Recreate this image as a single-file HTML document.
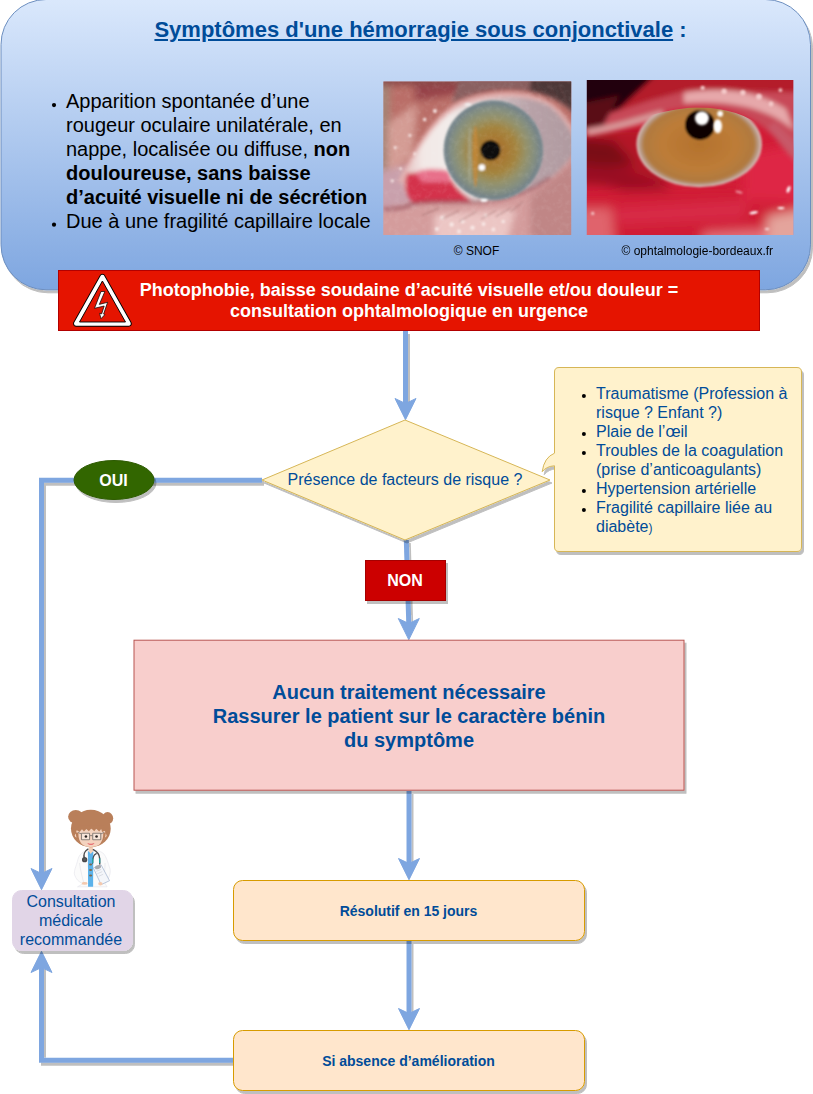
<!DOCTYPE html>
<html lang="fr">
<head>
<meta charset="utf-8">
<title>Hémorragie sous conjonctivale</title>
<style>
html,body{margin:0;padding:0;background:#fff;}
body{width:813px;height:1094px;position:relative;overflow:hidden;font-family:"Liberation Sans",sans-serif;}
#bg{position:absolute;left:0;top:0;}
.t{position:absolute;font-family:"Liberation Sans",sans-serif;color:#000;white-space:nowrap;}
.c{text-align:center;}
.blue{color:#004c99;}
</style>
</head>
<body>
<svg id="bg" width="813" height="1094" viewBox="0 0 813 1094">
<defs>
<linearGradient id="gp" x1="0" y1="0" x2="0" y2="1">
<stop offset="0" stop-color="#dae8fc"/>
<stop offset="1" stop-color="#7ea6e0"/>
</linearGradient>
<filter id="sh" x="-10%" y="-10%" width="130%" height="130%">
<feOffset in="SourceAlpha" dx="2" dy="3" result="o"/>
<feFlood flood-color="#000" flood-opacity="0.25"/>
<feComposite in2="o" operator="in" result="s"/>
<feMerge><feMergeNode in="s"/><feMergeNode in="SourceGraphic"/></feMerge>
</filter>
</defs>

<!-- top panel -->
<g filter="url(#sh)">
<rect x="1" y="-0.500" width="809.500" height="290.300" rx="45" ry="45" fill="url(#gp)" stroke="#6c8ebf" stroke-width="1"/>
</g>

<!-- photo 1 -->
<svg x="383.400" y="81.400" width="187.800" height="153.700" viewBox="22 30 765 625" preserveAspectRatio="none">
<defs>
<radialGradient id="iris1" cx="470" cy="310" r="205" gradientUnits="userSpaceOnUse">
<stop offset="0" stop-color="#6b4a1e"/>
<stop offset="0.200" stop-color="#a87630"/>
<stop offset="0.450" stop-color="#a4843e"/>
<stop offset="0.650" stop-color="#95926a"/>
<stop offset="0.820" stop-color="#858f80"/>
<stop offset="0.950" stop-color="#74838a"/>
<stop offset="1" stop-color="#8e9a9c"/>
</radialGradient>
<linearGradient id="scl1" x1="100" y1="0" x2="787" y2="0" gradientUnits="userSpaceOnUse">
<stop offset="0" stop-color="#e2bcbc"/>
<stop offset="0.120" stop-color="#f3e8e6"/>
<stop offset="0.280" stop-color="#f2ecea"/>
<stop offset="0.750" stop-color="#b8a2a8"/>
<stop offset="1" stop-color="#b09aa0"/>
</linearGradient>
<filter id="b1" x="-20%" y="-20%" width="140%" height="140%"><feGaussianBlur stdDeviation="8"/></filter>
<filter id="b2" x="-20%" y="-20%" width="140%" height="140%"><feGaussianBlur stdDeviation="3.500"/></filter>
<filter id="b3" x="-20%" y="-20%" width="140%" height="140%"><feGaussianBlur stdDeviation="16"/></filter>
<filter id="n1" x="0" y="0" width="100%" height="100%">
<feTurbulence type="fractalNoise" baseFrequency="0.045" numOctaves="3" seed="7" result="t"/>
<feColorMatrix type="matrix" values="0 0 0 0 1  0 0 0 0 1  0 0 0 0 1  1.400 0 0 0 -0.600"/>
</filter>
</defs>
<rect x="22" y="30" width="765" height="625" fill="#d29c9c"/>
<g filter="url(#b3)">
<path d="M-20 0 H830 V260 C 720 110 560 60 400 95 C 300 120 200 220 100 430 L-20 480 Z" fill="#ba6e68"/>
<path d="M-20 0 L50 0 L40 400 L-20 440 Z" fill="#a58476"/>
<path d="M40 200 L160 120 L140 330 L40 420 Z" fill="#d49c94"/>
<path d="M150 0 H520 V55 L150 110 Z" fill="#97434a"/>
<path d="M-20 -10 H830 V48 H-20 Z" fill="#8a4a48"/>
<path d="M-20 400 L130 370 L170 520 L-20 560 Z" fill="#c9a0ac"/>
<path d="M-20 560 L300 530 L830 470 V700 H-20 Z" fill="#d49c9c"/>
<path d="M230 570 L560 550 L520 700 L230 700 Z" fill="#ecc6c4"/>
<path d="M620 500 L830 330 V700 H620 Z" fill="#c08686"/>
</g>
<g filter="url(#b1)">
<path d="M330 20 H830 V200 C 760 100 640 60 520 62 C 440 62 370 80 300 120 Z" fill="#8a6060"/>
<path d="M620 20 H830 V190 C 780 120 700 80 620 70 Z" fill="#4e3838"/>
<path d="M80 440 C 140 320 210 190 310 125 C 420 70 600 50 710 120 C 760 160 800 230 810 260 L810 310 C 750 160 600 100 430 120 C 330 135 240 230 130 440 Z" fill="#e4b0ae"/>
<path d="M100 430 C 150 330 220 200 320 140 C 420 90 600 70 700 130 C 750 170 787 230 800 260 L800 320 C 740 400 680 450 600 480 C 520 510 450 518 400 518 L150 525 C 120 500 100 470 100 430 Z" fill="url(#scl1)"/>
<path d="M118 405 C 170 395 230 410 285 395 C 300 440 335 485 390 517 L150 528 C 112 500 100 450 118 405 Z" fill="#d4304c"/>
<path d="M150 400 C 200 380 250 385 290 395 L 300 440 L 180 440 Z" fill="#e8708a"/>
<path d="M22 548 C 80 552 120 540 150 524 C 250 512 350 522 420 518 C 520 512 620 480 700 420" fill="none" stroke="#9a5058" stroke-width="10"/>
</g>
<g filter="url(#b2)">
<circle cx="470" cy="310" r="203" fill="url(#iris1)"/>
<ellipse cx="397" cy="335" rx="10" ry="125" fill="#c4883a" opacity="0.800"/>
<ellipse cx="374" cy="330" rx="8" ry="120" fill="#a8ac98" opacity="0.600"/>
<circle cx="458" cy="310" r="41" fill="#080808"/>
<circle cx="423" cy="380" r="13" fill="#fff"/>
<ellipse cx="432" cy="513" rx="14" ry="6" fill="#fff"/>
<ellipse cx="366" cy="124" rx="14" ry="5" fill="#f4f4f4"/>
</g>
<g filter="url(#b2)" fill="#f8e8e6">
<circle cx="262" cy="585" r="9"/><circle cx="300" cy="612" r="9"/><circle cx="345" cy="600" r="8"/><circle cx="385" cy="625" r="9"/><circle cx="240" cy="630" r="8"/><circle cx="330" cy="640" r="8"/><circle cx="430" cy="610" r="8"/><circle cx="470" cy="632" r="8"/><circle cx="510" cy="600" r="7"/><circle cx="440" cy="575" r="6"/>
<circle cx="92" cy="385" r="6"/><circle cx="58" cy="435" r="6"/><circle cx="150" cy="325" r="6"/><circle cx="190" cy="185" r="7"/><circle cx="232" cy="150" r="8"/><circle cx="130" cy="250" r="6"/><circle cx="270" cy="378" r="5"/><circle cx="70" cy="300" r="6"/>
</g>
<g filter="url(#b2)" fill="none" stroke="#7a4a4a" stroke-width="3" opacity="0.600">
<path d="M180 575 L250 545"/><path d="M260 590 L330 555"/><path d="M330 600 L400 560"/><path d="M420 590 L480 555"/><path d="M480 580 L540 545"/><path d="M540 560 L590 520"/>
<path d="M640 40 L700 110"/><path d="M690 40 L750 130"/><path d="M590 40 L650 90"/><path d="M740 50 L785 150"/>
</g>
<rect x="22" y="30" width="765" height="625" filter="url(#n1)" opacity="0.120"/>
</svg>
<!-- /photo 1 -->

<!-- photo 2 -->
<svg x="586.800" y="79.900" width="206.500" height="155" viewBox="18 22 770 578" preserveAspectRatio="none">
<defs>
<radialGradient id="iris2" cx="437" cy="262" r="232" gradientUnits="userSpaceOnUse" gradientTransform="translate(0 83.600) scale(1 0.681)">
<stop offset="0" stop-color="#b4722c"/>
<stop offset="0.600" stop-color="#bd7c38"/>
<stop offset="0.880" stop-color="#b07a40"/>
<stop offset="0.950" stop-color="#b89a86"/>
<stop offset="1" stop-color="#d8bcb6"/>
</radialGradient>
<clipPath id="lid2"><path d="M-50 225 C 150 190 300 130 420 125 C 560 122 660 170 720 240 C 760 290 790 330 850 360 V700 H-50 Z"/></clipPath>
<filter id="c1" x="-20%" y="-20%" width="140%" height="140%"><feGaussianBlur stdDeviation="9"/></filter>
<filter id="c2" x="-20%" y="-20%" width="140%" height="140%"><feGaussianBlur stdDeviation="3.500"/></filter>
<filter id="c3" x="-20%" y="-20%" width="140%" height="140%"><feGaussianBlur stdDeviation="20"/></filter>
</defs>
<rect x="18" y="22" width="770" height="578" fill="#d21c36"/>
<g filter="url(#c3)">
<path d="M-50 200 H250 L330 400 L-50 420 Z" fill="#b41428"/>
<path d="M-50 230 L120 250 L200 340 L-50 350 Z" fill="#7a0a18"/>
<path d="M-50 330 L150 350 L330 420 L300 470 L100 420 L-50 400 Z" fill="#9a0e22"/>
<path d="M-50 440 L850 420 V700 H-50 Z" fill="#d01c34"/>
<path d="M120 500 L620 470 L600 540 L140 560 Z" fill="#d82c46"/>
<path d="M-50 500 L110 500 L130 700 H-50 Z" fill="#e0646c"/>
<path d="M600 300 L850 250 V480 L600 470 Z" fill="#de2644"/>
<path d="M450 590 L850 570 V700 H450 Z" fill="#e4707a"/>
<path d="M690 530 L850 500 V700 H690 Z" fill="#e4a49c"/>
</g>
<g filter="url(#c1)">
<path d="M-50 -20 H850 V360 C 790 330 760 290 720 240 C 660 170 560 122 420 125 C 300 130 150 190 -50 225 Z" fill="#c84a58"/>
<path d="M-50 -20 H850 V70 L400 60 L250 100 L-50 200 Z" fill="#b41c2c"/>
<path d="M-50 -20 H300 L140 130 L-50 200 Z" fill="#22040a"/>
<path d="M-50 120 L140 80 L80 190 L-50 215 Z" fill="#5a0c16"/>
<path d="M380 70 C 520 45 650 60 760 130 L790 210 C 700 130 560 95 380 108 Z" fill="#e6a8aa"/>
<path d="M18 205 C 120 190 200 160 300 135 L310 160 C 200 190 120 215 18 232 Z" fill="#d8999a"/>
<path d="M690 200 C 740 250 770 300 800 330 L800 260 C 770 230 740 200 720 180 Z" fill="#c85868"/>
</g>
<g clip-path="url(#lid2)">
<g filter="url(#c2)">
<ellipse cx="437" cy="262" rx="234" ry="160" fill="url(#iris2)"/>
<circle cx="440" cy="190" r="56" fill="#0a0606"/>
</g>
</g>
<g filter="url(#c2)" fill="#fff">
<circle cx="447" cy="165" r="26"/>
<ellipse cx="506" cy="195" rx="16" ry="26"/>
<circle cx="515" cy="148" r="11"/>
<ellipse cx="770" cy="430" rx="6" ry="13" transform="rotate(20 770 430)"/>
<ellipse cx="640" cy="517" rx="16" ry="5" transform="rotate(-12 640 517)"/>
<ellipse cx="742" cy="500" rx="13" ry="4"/>
<ellipse cx="585" cy="440" rx="14" ry="4" transform="rotate(15 585 440)" opacity="0.600"/>
<ellipse cx="690" cy="578" rx="9" ry="4" opacity="0.800"/>
</g>
<g filter="url(#c2)" fill="#f4caca">
<circle cx="530" cy="65" r="10"/><circle cx="600" cy="70" r="10"/><circle cx="660" cy="85" r="11"/><circle cx="450" cy="52" r="8"/><circle cx="705" cy="112" r="9"/><circle cx="40" cy="520" r="6"/><circle cx="740" cy="60" r="7"/>
</g>
</svg>
<!-- /photo 2 -->

<!-- connectors -->
<g filter="url(#sh)" fill="none" stroke="#7ea6e0" stroke-width="5">
<path d="M405.500 331 V405"/>
<path d="M262 480.200 H41.500 V875"/>
<path d="M406.300 540 L408.800 625"/>
<path d="M409 791 V865"/>
<path d="M409 941 V1015"/>
<path d="M233 1060.300 H41.500 V966"/>
</g>
<g fill="#7ea6e0" stroke="#7ea6e0" stroke-width="1" stroke-linejoin="miter">
<path d="M405.500 419.700 L395 398.500 L405.500 403.500 L416 398.500 Z"/>
<path d="M408.800 639.700 L398.300 618.500 L408.800 623.500 L419.300 618.500 Z"/>
<path d="M409 879.700 L398.500 858.500 L409 863.500 L419.500 858.500 Z"/>
<path d="M409 1029.700 L398.500 1008.500 L409 1013.500 L419.500 1008.500 Z"/>
<path d="M41.500 889.700 L31 868.500 L41.500 873.500 L52 868.500 Z"/>
<path d="M41.500 951.300 L31 972.500 L41.500 967.500 L52 972.500 Z"/>
</g>

<!-- red banner -->
<rect x="58.500" y="270.500" width="701" height="60" fill="#e51400" stroke="#b20000" stroke-width="1"/>
<path d="M102.400 277 L128.600 323.600 L76.200 323.600 Z" fill="none" stroke="#000" stroke-width="6.200" stroke-linejoin="round"/>
<path d="M102.400 277 L128.600 323.600 L76.200 323.600 Z" fill="none" stroke="#fff" stroke-width="4.400" stroke-linejoin="round"/>
<path d="M102.400 281 L125.500 322 L79.500 322 Z" fill="#e51400" stroke="#000" stroke-width="0.900" stroke-linejoin="miter"/>
<path d="M104.850 291.500 L99.300 304.400 L107.600 302.300 L103.600 314.100 L104.850 314.600 L101 318.700 L99.600 313.400 L101.700 313.850 L104.200 306 L94.500 308.300 L101 291.500 Z" fill="#fff" stroke="#000" stroke-width="0.700" stroke-linejoin="miter"/>

<!-- diamond -->
<g filter="url(#sh)">
<path d="M405 420 L550 480 L405 540 L262 480 Z" fill="#fff2cc" stroke="#d6b656" stroke-width="1"/>
</g>

<!-- callout -->
<g filter="url(#sh)">
<path d="M559 367.500 H797 Q801.500 367.500 801.500 372 V547 Q801.500 551.500 797 551.500 H559 Q554.500 551.500 554.500 547 V465.800 Q546.500 466.300 542.200 471.700 Q544 457.500 554.500 453.200 V372 Q554.500 367.500 559 367.500 Z" fill="#fff2cc" stroke="#d6b656" stroke-width="1"/>
</g>

<!-- OUI -->
<g filter="url(#sh)">
<ellipse cx="114" cy="480" rx="40" ry="19.500" fill="#336600" stroke="#2d5a00" stroke-width="1"/>
</g>

<!-- NON -->
<g filter="url(#sh)">
<rect x="365.500" y="560.500" width="80" height="40" fill="#cc0000" stroke="#a50000" stroke-width="1"/>
</g>

<!-- pink -->
<g filter="url(#sh)">
<rect x="134" y="640.200" width="550" height="150" fill="#f8cecc" stroke="#b85450" stroke-width="1"/>
</g>

<!-- orange boxes -->
<g filter="url(#sh)">
<rect x="233.500" y="880.500" width="351" height="60" rx="9" fill="#ffe6cc" stroke="#d79b00" stroke-width="1"/>
</g>
<g filter="url(#sh)">
<rect x="233.500" y="1030.500" width="351" height="60" rx="9" fill="#ffe6cc" stroke="#d79b00" stroke-width="1"/>
</g>

<!-- consultation -->
<g filter="url(#sh)">
<rect x="12.500" y="890.500" width="120" height="60" rx="9" fill="#e1d5e7" stroke="#e1d5e7" stroke-width="1"/>
</g>
<!-- doctor -->
<svg x="50" y="800" width="80" height="100" viewBox="0 0 813 1016">
<g>
<!-- coat -->
<path d="M400 505 C 340 520 300 545 285 600 C 265 680 240 720 250 760 C 262 800 290 835 335 850 L 280 882 H 580 L 560 850 C 600 800 620 740 610 700 C 590 640 575 580 545 545 C 515 520 470 510 440 505 Z" fill="#fbfbfb" stroke="#e4e4ea" stroke-width="6"/>
<path d="M300 640 C 310 720 330 790 345 850" fill="none" stroke="#e0e0e6" stroke-width="6"/>
<path d="M560 640 C 560 720 545 790 520 850" fill="none" stroke="#e0e0e6" stroke-width="6"/>
<!-- shirt -->
<path d="M385 520 L440 520 L438 882 H387 Z" fill="#5cb2ea"/>
<!-- neck -->
<path d="M392 470 H440 L436 520 L414 548 L394 520 Z" fill="#f4d0b8"/>
<!-- buttons -->
<ellipse cx="413" cy="655" rx="16" ry="11" fill="#7d6a4c"/>
<ellipse cx="413" cy="711" rx="16" ry="11" fill="#7d6a4c"/>
<ellipse cx="413" cy="767" rx="16" ry="11" fill="#7d6a4c"/>
<!-- clipboard -->
<path d="M440 690 L520 660 L605 820 L520 860 Z" fill="#f4f6fa" stroke="#9fb0cc" stroke-width="7" stroke-linejoin="round"/>
<path d="M470 725 L520 705 M480 750 L530 728 M495 775 L540 755" stroke="#c8ccd4" stroke-width="6" fill="none"/>
<!-- stethoscope -->
<path d="M385 500 C 350 520 340 560 348 590" fill="none" stroke="#4b4b4d" stroke-width="15" stroke-linecap="round"/>
<circle cx="352" cy="606" r="27" fill="#48484a"/>
<circle cx="352" cy="606" r="13" fill="#5c5c5e"/>
<path d="M440 505 C 470 520 500 545 504 590 L 506 650" fill="none" stroke="#4b4b4d" stroke-width="14" stroke-linecap="round"/>
<path d="M470 545 C 445 555 432 580 433 640" fill="none" stroke="#4b4b4d" stroke-width="13" stroke-linecap="round"/>
<path d="M433 592 V640" stroke="#22a3a3" stroke-width="13"/>
<path d="M505 592 V640" stroke="#22a3a3" stroke-width="13"/>
<ellipse cx="488" cy="682" rx="32" ry="20" fill="#a9a9ad" transform="rotate(-20 488 682)"/>
<!-- hands -->
<ellipse cx="352" cy="848" rx="30" ry="14" fill="#f4c9ae"/>
<ellipse cx="512" cy="850" rx="22" ry="18" fill="#f4c9ae"/>
<!-- hair -->
<ellipse cx="262" cy="170" rx="78" ry="68" fill="#b97f5a"/>
<ellipse cx="585" cy="185" rx="57" ry="62" fill="#b97f5a"/>
<ellipse cx="415" cy="290" rx="202" ry="190" fill="#b97f5a"/>
<!-- face -->
<path d="M268 340 C 262 300 290 290 300 290 L 530 290 C 560 295 566 330 560 350 C 560 420 500 478 415 478 C 330 478 268 420 268 340 Z" fill="#f4d3bf"/>
<circle cx="272" cy="360" r="20" fill="#f4d3bf"/>
<circle cx="555" cy="360" r="20" fill="#f4d3bf"/>
<!-- bangs -->
<path d="M262 300 L300 260 L540 260 L565 310 L530 325 L520 295 L500 320 L470 292 L450 318 L420 290 L395 318 L370 295 L345 320 L325 298 L300 325 Z" fill="#b97f5a"/>
<!-- sideburns -->
<path d="M262 330 C 262 400 300 450 340 465 C 300 430 285 380 290 330 Z" fill="#b97f5a"/>
<path d="M566 330 C 566 400 530 450 490 465 C 530 430 545 380 540 330 Z" fill="#b97f5a"/>
<!-- glasses -->
<rect x="320" y="338" width="82" height="66" rx="6" fill="#f8e6da" stroke="#8d837c" stroke-width="11"/>
<rect x="434" y="338" width="82" height="66" rx="6" fill="#f8e6da" stroke="#8d837c" stroke-width="11"/>
<path d="M402 362 H434 M320 345 L285 330 M516 345 L548 330" stroke="#8d837c" stroke-width="10" fill="none"/>
<circle cx="365" cy="370" r="13" fill="#2a2422"/>
<circle cx="473" cy="370" r="13" fill="#2a2422"/>
<!-- mouth -->
<path d="M378 436 C 395 446 435 446 452 436 C 440 462 392 462 378 436 Z" fill="#e3525d"/>
</g>
</svg>
<!-- /doctor -->
<!-- bullets -->
<g fill="#000">
<circle cx="54" cy="105.100" r="2.100"/>
<circle cx="54" cy="224.700" r="2.100"/>
<circle cx="583.900" cy="396" r="2"/>
<circle cx="583.900" cy="434" r="2"/>
<circle cx="583.900" cy="453" r="2"/>
<circle cx="583.900" cy="491" r="2"/>
<circle cx="583.900" cy="510" r="2"/>
</g>
</svg>

<div class="t c blue" style="left:0;top:16.500px;width:841px;font-size:22px;line-height:26px;font-weight:bold;"><span style="text-decoration:underline;">Symptômes d'une hémorragie sous conjonctivale</span> :</div>

<div class="t" style="left:66px;top:90px;font-size:20px;line-height:23.900px;">Apparition spontanée d’une<br>rougeur oculaire unilatérale, en<br>nappe, localisée ou diffuse, <b>non</b><br><b>douloureuse, sans baisse</b><br><b>d’acuité visuelle ni de sécrétion</b><br>Due à une fragilité capillaire locale</div>

<div class="t c" style="left:377px;top:244.300px;width:199px;font-size:12px;line-height:14px;">© SNOF</div>
<div class="t c" style="left:587px;top:244.300px;width:220.600px;font-size:12px;line-height:14px;">© ophtalmologie-bordeaux.fr</div>

<div class="t c" style="left:58px;top:279.500px;width:702px;font-size:18px;line-height:21.500px;font-weight:bold;color:#fff;">Photophobie, baisse soudaine d’acuité visuelle et/ou douleur =<br>consultation ophtalmologique en urgence</div>

<div class="t c blue" style="left:261px;top:470.300px;width:288px;font-size:16px;line-height:19px;">Présence de facteurs de risque ?</div>

<div class="t blue" style="left:596px;top:384px;font-size:16px;line-height:19px;">Traumatisme (Profession à<br>risque ? Enfant ?)<br>Plaie de l’œil<br>Troubles de la coagulation<br>(prise d’anticoagulants)<br>Hypertension artérielle<br>Fragilité capillaire liée au<br>diabète<span style="font-size:12px">)</span></div>

<div class="t c" style="left:73px;top:470.500px;width:81px;font-size:16px;line-height:19px;font-weight:bold;color:#fff;">OUI</div>
<div class="t c" style="left:365px;top:570.900px;width:80px;font-size:16px;line-height:19px;font-weight:bold;color:#fff;">NON</div>

<div class="t c blue" style="left:134px;top:679.500px;width:550px;font-size:20px;line-height:24px;font-weight:bold;">Aucun traitement nécessaire<br>Rassurer le patient sur le caractère bénin<br>du symptôme</div>

<div class="t c blue" style="left:233px;top:902.500px;width:351px;font-size:14px;line-height:16px;font-weight:bold;">Résolutif en 15 jours</div>
<div class="t c blue" style="left:233px;top:1052.500px;width:351px;font-size:14px;line-height:16px;font-weight:bold;">Si absence d’amélioration</div>

<div class="t c blue" style="left:11px;top:891.700px;width:120px;font-size:16px;line-height:19px;">Consultation<br>médicale<br>recommandée</div>
</body>
</html>
